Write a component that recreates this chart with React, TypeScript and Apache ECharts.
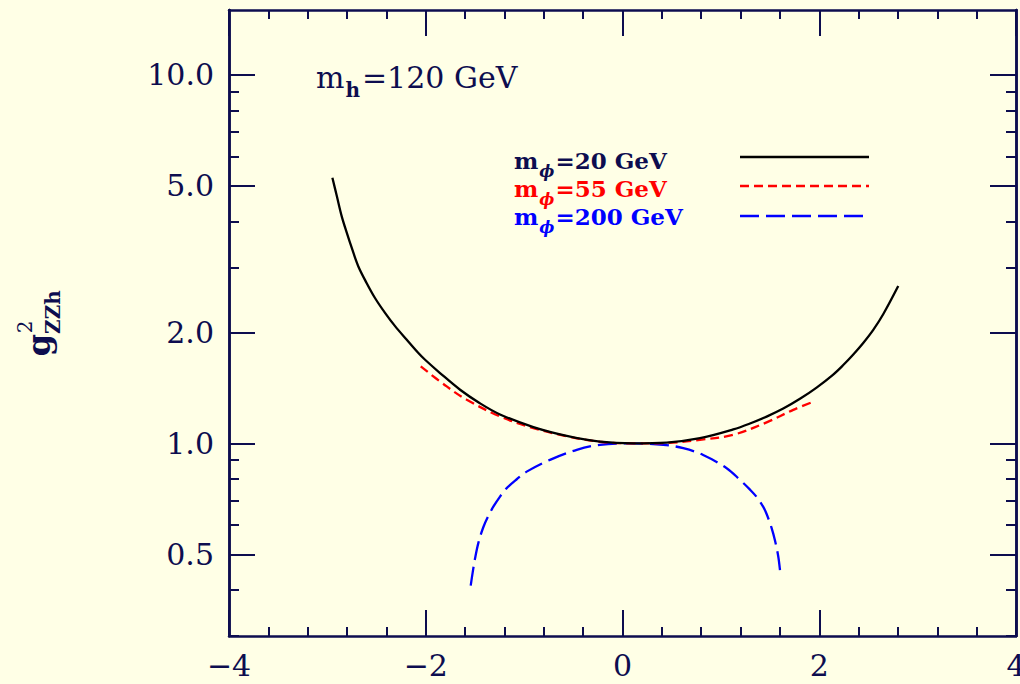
import React, { useEffect, useRef } from "react";
import * as echarts from "echarts";

// ---- data ----
const xPhi20 = [-2.949, -2.904, -2.854, -2.803, -2.752, -2.685, -2.6, -2.516, -2.414, -2.312, -2.193, -2.075, -2.007, -1.855, -1.651, -1.45, -1.245, -0.906, -0.567, -0.229, 0.11, 0.449, 0.788, 1.126, 1.296, 1.465, 1.634, 1.804, 1.973, 2.142, 2.244, 2.346, 2.447, 2.549, 2.65, 2.803];
const yPhi20 = [5.26, 4.69, 4.13, 3.73, 3.39, 3.02, 2.72, 2.48, 2.26, 2.08, 1.91, 1.758, 1.686, 1.552, 1.398, 1.285, 1.198, 1.107, 1.048, 1.011, 1.0, 1.005, 1.033, 1.091, 1.132, 1.182, 1.243, 1.321, 1.417, 1.537, 1.631, 1.742, 1.872, 2.032, 2.24, 2.672];

const xPhi55 = [-2.051, -1.787, -1.583, -1.245, -0.906, -0.567, -0.229, 0.11, 0.449, 0.788, 1.126, 1.465, 1.736, 1.946];
const yPhi55 = [1.617, 1.427, 1.313, 1.183, 1.1, 1.045, 1.01, 1.0, 1.002, 1.022, 1.055, 1.14, 1.233, 1.299];

const xPhi200 = [-1.543, -1.522, -1.499, -1.465, -1.415, -1.364, -1.313, -1.245, -1.177, -1.075, -0.974, -0.737, -0.465, -0.229, 0.076, 0.415, 0.618, 0.82, 1.059, 1.194, 1.296, 1.364, 1.431, 1.465, 1.516, 1.55, 1.583, 1.602];
const yPhi200 = [0.411, 0.448, 0.487, 0.537, 0.592, 0.635, 0.673, 0.717, 0.756, 0.799, 0.838, 0.902, 0.96, 0.991, 1.0, 0.991, 0.97, 0.93, 0.856, 0.796, 0.749, 0.715, 0.672, 0.643, 0.589, 0.545, 0.494, 0.45];

const yMajorTicks = [0.5, 1, 2, 5, 10];
const yMinorTicks = [0.3, 0.4, 0.6, 0.7, 0.8, 0.9, 3, 4, 6, 7, 8, 9];
const xMin = -4;
const xMax = 4;
const xStep = 2;
const yMin = 0.3;
const yMax = 15;

const legendTexts = ["=20 GeV", "=55 GeV", "=200 GeV"];
const massLabel = "=120 GeV";

// ---- styles ----
const AXIS = "#0d0d4f";
const BG = "#ffffe6";
const SERIF = "DejaVu Serif";
const COLORS = ["#000000", "#ff0000", "#0000ff"];
const DASHES: (number[] | "solid")[] = ["solid", [9, 5], [19, 7]];

const zip = (xs: number[], ys: number[]) => xs.map((x, i) => [x, ys[i]]);

export default function App() {
  const ref = useRef<HTMLDivElement>(null);

  useEffect(() => {
    if (!ref.current) return;
    const chart = echarts.init(ref.current, undefined, { renderer: "svg" });

    const lineStyle = { color: AXIS, width: 2.5 };
    const tickStyle = { color: AXIS, width: 2 };

    const xBase: any = {
      type: "value",
      min: xMin,
      max: xMax,
      interval: xStep,
      splitLine: { show: false },
      axisLine: { show: true, onZero: false, lineStyle },
      axisTick: { show: true, inside: true, length: 26, lineStyle: tickStyle },
      minorTick: { show: true, splitNumber: 5, length: 9, lineStyle: tickStyle },
      minorSplitLine: { show: false },
    };

    const yBase: any = {
      type: "log",
      logBase: 10,
      min: yMin,
      max: yMax,
      splitLine: { show: false },
      minorTick: { show: false },
      axisLine: { show: true, onZero: false, lineStyle },
    };

    const seriesList = [
      { name: "20", xs: xPhi20, ys: yPhi20 },
      { name: "55", xs: xPhi55, ys: yPhi55 },
      { name: "200", xs: xPhi200, ys: yPhi200 },
    ].map((s, i) => ({
      type: "line",
      name: s.name,
      xAxisIndex: 0,
      yAxisIndex: 0,
      data: zip(s.xs, s.ys),
      symbol: "none",
      smooth: 0.35,
      lineStyle: { color: COLORS[i], width: 2.3, type: DASHES[i] },
      z: 3 - i,
    }));

    const legendRowsY = [160, 188, 216];
    const legendLineY = [157, 186, 216];

    const graphics: any[] = [];
    legendTexts.forEach((t, i) => {
      graphics.push({
        type: "text",
        x: 514,
        y: legendRowsY[i],
        style: {
          text: `{m|m}{s|ϕ}{t|${t}}`,
          fill: i === 0 ? AXIS : COLORS[i],
          verticalAlign: "middle",
          align: "left",
          rich: {
            m: { fontSize: 23, fontFamily: SERIF, fontWeight: "bold", lineHeight: 26 },
            s: { fontSize: 16, fontFamily: SERIF, fontWeight: "bold", fontStyle: "italic", lineHeight: 16, padding: [22, 1, 0, 1] },
            t: { fontSize: 23, fontFamily: SERIF, fontWeight: "bold", lineHeight: 26 },
          },
        },
      });
      graphics.push({
        type: "line",
        shape: { x1: 740, y1: legendLineY[i], x2: 869, y2: legendLineY[i] },
        style: {
          stroke: COLORS[i],
          lineWidth: 2.3,
          lineDash: DASHES[i] === "solid" ? null : DASHES[i],
        },
      });
    });

    graphics.push({
      type: "text",
      x: 316,
      y: 77,
      style: {
        text: `{m|m}{s|h}{t|${massLabel}}`,
        fill: AXIS,
        verticalAlign: "middle",
        align: "left",
        rich: {
          m: { fontSize: 30, fontFamily: SERIF, lineHeight: 34 },
          s: { fontSize: 20, fontFamily: SERIF, fontWeight: "bold", lineHeight: 20, padding: [26, 2, 0, 1] },
          t: { fontSize: 30, fontFamily: SERIF, lineHeight: 34 },
        },
      },
    });

    // y axis title g^2_ZZh, rotated
    graphics.push({
      type: "text",
      x: 39,
      y: 345,
      rotation: Math.PI / 2,
      style: { text: "g", fill: AXIS, fontSize: 32, fontFamily: SERIF, fontWeight: "bold", align: "center", verticalAlign: "middle" },
    });
    graphics.push({
      type: "text",
      x: 25,
      y: 327,
      rotation: Math.PI / 2,
      style: { text: "2", fill: AXIS, fontSize: 20, fontFamily: SERIF, align: "center", verticalAlign: "middle" },
    });
    graphics.push({
      type: "text",
      x: 53,
      y: 312,
      rotation: Math.PI / 2,
      style: { text: "ZZh", fill: AXIS, fontSize: 20, fontFamily: SERIF, fontWeight: "bold", align: "center", verticalAlign: "middle" },
    });

    chart.setOption({
      animation: false,
      backgroundColor: BG,
      grid: { left: 229, right: 4, top: 10, bottom: 48, containLabel: false, outerBoundsMode: "none" },
      xAxis: [
        {
          ...xBase,
          position: "bottom",
          axisLabel: {
            show: true,
            margin: 14,
            fontSize: 30,
            fontFamily: SERIF,
            color: AXIS,
            showMinLabel: true,
            showMaxLabel: true,
            formatter: (v: number) => (v < 0 ? "\u2212" + Math.abs(v) : String(v)),
          },
        },
        { ...xBase, position: "top", axisLabel: { show: false } },
      ],
      yAxis: [
        {
          ...yBase,
          position: "left",
          axisTick: { show: true, inside: true, length: 26, lineStyle: tickStyle, customValues: yMajorTicks },
          axisLabel: {
            show: true,
            customValues: yMajorTicks,
            margin: 15,
            fontSize: 30,
            fontFamily: SERIF,
            color: AXIS,
            formatter: (v: number) => Number(v).toFixed(1),
          },
        },
        {
          ...yBase,
          position: "left",
          axisTick: { show: true, inside: true, length: 10, lineStyle: tickStyle, customValues: yMinorTicks },
          axisLabel: { show: false },
        },
        {
          ...yBase,
          position: "right",
          axisTick: { show: true, inside: true, length: 26, lineStyle: tickStyle, customValues: yMajorTicks },
          axisLabel: { show: false },
        },
        {
          ...yBase,
          position: "right",
          axisTick: { show: true, inside: true, length: 10, lineStyle: tickStyle, customValues: yMinorTicks },
          axisLabel: { show: false },
        },
      ],
      series: seriesList,
      graphic: graphics,
    });

    return () => chart.dispose();
  }, []);

  return (
    <div
      ref={ref}
      style={{ position: "fixed", left: 0, top: 0, width: 1020, height: 684 }}
    />
  );
}
